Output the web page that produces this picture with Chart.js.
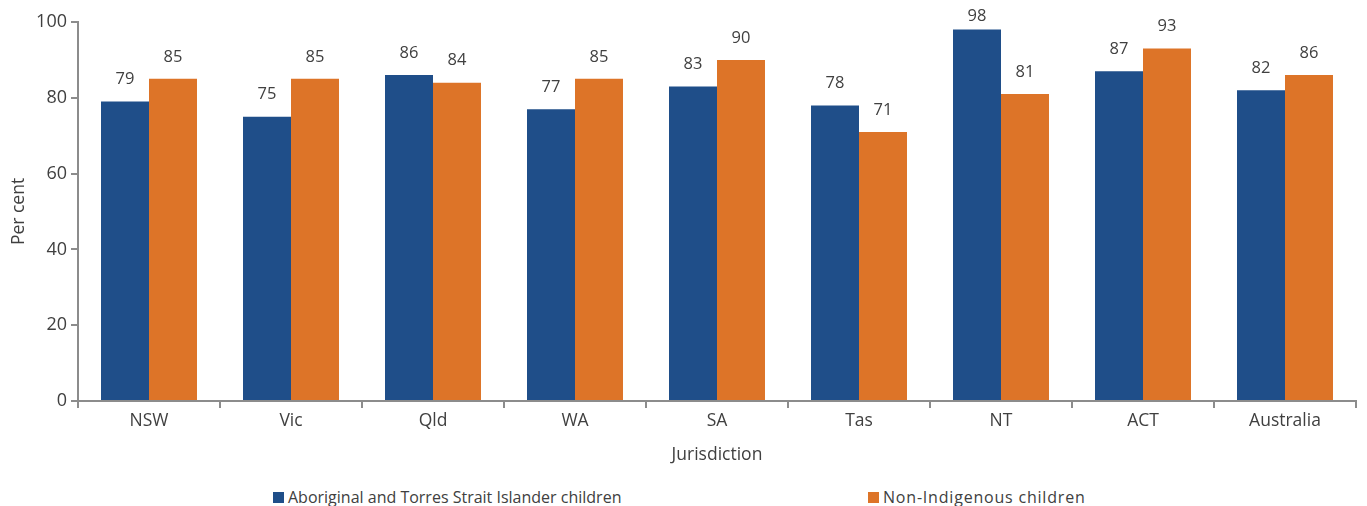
<!DOCTYPE html>
<html>
<head>
<meta charset="utf-8">
<script src="https://cdn.jsdelivr.net/npm/chart.js@4"></script>
<style>
  html, body { margin: 0; padding: 0; background: #fff; }
  #wrap { position: relative; width: 1367px; height: 506px; }
  #chart-box { position: absolute; left: 0; top: 0; width: 1367px; height: 466px; }
  #legend { position: absolute; left: 0; top: 486px; width: 1367px; height: 22px;
    font-family: "Open Sans", sans-serif; font-size: 16px; color: #404040; }
  .item { position: absolute; top: 0; white-space: nowrap; }
  .box { display: inline-block; width: 11px; height: 11px; margin-right: 4px; vertical-align: 0px; }
</style>
</head>
<body>
<div id="wrap">
  <div id="chart-box"><canvas id="myChart"></canvas></div>
  <div id="legend">
    <span class="item" style="left:273px"><span class="box" style="background:#1F4E89"></span>Aboriginal and Torres Strait Islander children</span>
    <span class="item" style="left:868px; letter-spacing:0.8px"><span class="box" style="background:#DD7428"></span>Non-Indigenous children</span>
  </div>
</div>
<script>
const jurisdictions = ["NSW", "Vic", "Qld", "WA", "SA", "Tas", "NT", "ACT", "Australia"];
const indigenous = [79, 75, 86, 77, 83, 78, 98, 87, 82];
const nonIndigenous = [85, 85, 84, 85, 90, 71, 81, 93, 86];
const yTicks = [0, 20, 40, 60, 80, 100];

const BLUE = "#1F4E89";
const ORANGE = "#DD7428";
const AXIS = "#8c8c8c";
const TEXT = "#404040";
const FONT = "'Open Sans', sans-serif";

// value labels above each bar
const barLabels = {
  id: "barLabels",
  afterDatasetsDraw(chart) {
    const { ctx } = chart;
    ctx.save();
    ctx.font = "16.5px " + FONT;
    ctx.fillStyle = TEXT;
    ctx.textAlign = "center";
    ctx.textBaseline = "middle";
    chart.data.datasets.forEach((ds, i) => {
      chart.getDatasetMeta(i).data.forEach((bar, j) => {
        const y = Math.max(bar.y - 22, 16);
        ctx.fillText(ds.data[j], bar.x, y);
      });
    });
    ctx.restore();
  },
};

const ctx = document.getElementById("myChart").getContext("2d");
const myChart = new Chart(ctx, {
  type: "bar",
  data: {
    labels: jurisdictions,
    datasets: [
      {
        label: "Aboriginal and Torres Strait Islander children",
        data: indigenous,
        backgroundColor: BLUE,
        borderWidth: 0,
        categoryPercentage: 0.676,
        barPercentage: 1,
      },
      {
        label: "Non-Indigenous children",
        data: nonIndigenous,
        backgroundColor: ORANGE,
        borderWidth: 0,
        categoryPercentage: 0.676,
        barPercentage: 1,
      },
    ],
  },
  options: {
    responsive: true,
    maintainAspectRatio: false,
    animation: false,
    layout: { padding: { top: 22, right: 11, left: 0, bottom: 0 } },
    plugins: {
      legend: { display: false },
      tooltip: { enabled: false },
    },
    scales: {
      x: {
        grid: {
          display: true,
          drawOnChartArea: false,
          color: AXIS,
          lineWidth: 2,
          tickLength: 7,
        },
        border: { color: AXIS, width: 2 },
        ticks: { color: TEXT, font: { family: FONT, size: 17.5 }, padding: 3 },
        title: {
          display: true,
          text: "Jurisdiction",
          color: TEXT,
          font: { family: FONT, size: 17.5 },
          padding: { top: 6, bottom: 0 },
        },
        afterFit(scale) { scale.height = 65; },
      },
      y: {
        min: 0,
        max: 100,
        afterBuildTicks(scale) { scale.ticks = yTicks.map((v) => ({ value: v })); },
        grid: {
          display: true,
          drawOnChartArea: false,
          color: AXIS,
          lineWidth: 2,
          tickLength: 7,
        },
        border: { color: AXIS, width: 2 },
        ticks: { color: TEXT, font: { family: FONT, size: 18 }, padding: 4 },
        title: {
          display: true,
          text: "Per cent",
          color: TEXT,
          font: { family: FONT, size: 17.5 },
          padding: { top: 9, bottom: 8 },
        },
        afterFit(scale) { scale.width = 78; },
      },
    },
  },
  plugins: [barLabels],
});
</script>
</body>
</html>
